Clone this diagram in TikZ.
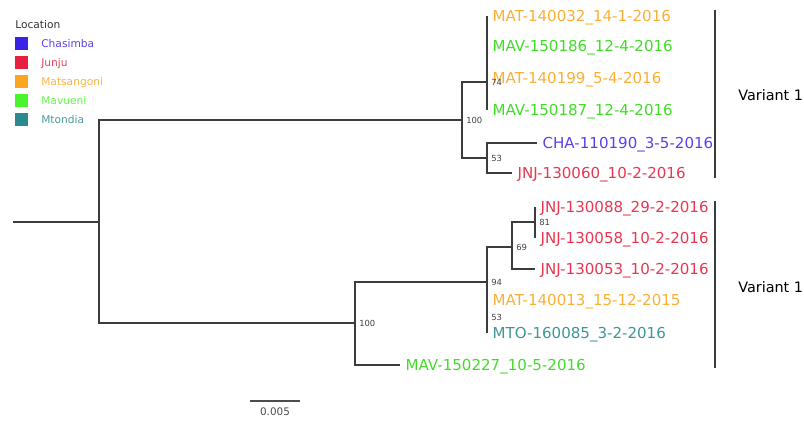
\documentclass[tikz,border=0pt]{standalone}
\usepackage{fontspec}
\setmainfont{DejaVu Sans}
\usetikzlibrary{positioning}

% location colours
\definecolor{chacol}{HTML}{3A22E6}
\definecolor{jnjcol}{HTML}{E8203F}
\definecolor{matcol}{HTML}{FBA61E}
\definecolor{mavcol}{HTML}{48F52A}
\definecolor{mtocol}{HTML}{2A8A8C}
\definecolor{treegray}{HTML}{3C3C3C}

\begin{document}
\begin{tikzpicture}[
  x=0.75pt, y=-0.75pt,
  branch/.style={draw=treegray, line width=1pt},
  tip/.style={anchor=west, inner xsep=4pt, inner ysep=0pt, text height=8.1pt, text depth=0pt,
    font=\fontsize{11.3}{13}\selectfont},
  boot/.style={anchor=west, inner xsep=3pt, inner ysep=0pt, text height=4.6pt, text depth=0pt,
    text=black!75, font=\fontsize{6.3}{7}\selectfont},
  swatch/.style={minimum size=9.75pt, inner sep=0pt},
  key/.style={anchor=west, inner sep=0pt, text height=6pt, text depth=0pt, font=\fontsize{8}{9}\selectfont},
  clade/.style={draw=treegray, line width=1.5pt}
]
\useasboundingbox (0,0) rectangle (804,421);

% legend
\node[key, text=black!80] (loc) at (15,24) {Location};
\foreach \name/\col [count=\i] in {Chasimba/chacol, Junju/jnjcol, Matsangoni/matcol, Mavueni/mavcol, Mtondia/mtocol}{
  \node[swatch, fill=\col] (sw\i) at (21.5,24+19*\i) {};
  \node[key, text=\col!85!white] (key\i) at (41,24+19*\i) {\name};
}

% internal nodes
\coordinate (root) at (13,222);
\coordinate (n0) at (99,222);
\coordinate (nA) at (462,120);
\coordinate (nA1) at (487,82);
\coordinate (nA2) at (487,158);
\coordinate (nB) at (355,323);
\coordinate (nB1) at (487,282);
\coordinate (nB2) at (512,247);
\coordinate (nB3) at (535,222);
\coordinate (nB4) at (487,317);

% tips
\node[tip, text=matcol!90!white] (t1) at (487,16) {MAT-140032\_14-1-2016};
\node[tip, text=mavcol!90!black] (t2) at (487,46) {MAV-150186\_12-4-2016};
\node[tip, text=matcol!90!white] (t3) at (487,78) {MAT-140199\_5-4-2016};
\node[tip, text=mavcol!90!black] (t4) at (487,110) {MAV-150187\_12-4-2016};
\node[tip, text=chacol!85!white] (t5) at (537,143) {CHA-110190\_3-5-2016};
\node[tip, text=jnjcol!90!white] (t6) at (512,173) {JNJ-130060\_10-2-2016};
\node[tip, text=jnjcol!90!white] (t7) at (535,207) {JNJ-130088\_29-2-2016};
\node[tip, text=jnjcol!90!white] (t8) at (535,238) {JNJ-130058\_10-2-2016};
\node[tip, text=jnjcol!90!white] (t9) at (535,269) {JNJ-130053\_10-2-2016};
\node[tip, text=matcol!90!white] (t10) at (487,300) {MAT-140013\_15-12-2015};
\node[tip, text=mtocol!90!white] (t11) at (487,333) {MTO-160085\_3-2-2016};
\node[tip, text=mavcol!90!black] (t12) at (400,365) {MAV-150227\_10-5-2016};

% branches
\draw[branch] (root) -- (n0);
\foreach \p/\c in {n0/nA, n0/nB, nA/nA1, nA/nA2, nB/nB1, nB1/nB2, nB1/nB4, nB2/nB3}
  \draw[branch] (\p) |- (\c);
\foreach \p/\c in {nA1/t1, nA1/t2, nA1/t3, nA1/t4, nA2/t5, nA2/t6, nB3/t7, nB3/t8, nB2/t9, nB4/t10, nB4/t11, nB/t12}
  \draw[branch] (\p) |- (\c.west);

% bootstrap values
\node[boot] (bA) at (nA) {100};
\node[boot] (bA1) at (nA1) {74};
\node[boot] (bA2) at (nA2) {53};
\node[boot] (bB) at (nB) {100};
\node[boot] (bB1) at (nB1) {94};
\node[boot] (bB2) at (nB2) {69};
\node[boot] (bB3) at (nB3) {81};
\node[boot] (bB4) at (nB4) {53};

% clade bars
\coordinate (v1a) at (715,10);
\coordinate (v1b) at (715,178);
\coordinate (v2a) at (715,201);
\coordinate (v2b) at (715,368);
\draw[clade] (v1a) -- (v1b);
\draw[clade] (v2a) -- (v2b);
\node[anchor=west, inner sep=0pt, font=\fontsize{10.8}{12}\selectfont] (var1) at (738,95) {Variant 1};
\node[anchor=west, inner sep=0pt, font=\fontsize{10.8}{12}\selectfont] (var2) at (738,287) {Variant 1};

% scale bar
\coordinate (s1) at (250,401);
\coordinate (s2) at (300,401);
\draw[branch, draw=black!70] (s1) -- (s2);
\node[inner sep=0pt, text=black!70, font=\fontsize{7.8}{9}\selectfont] (scl) at (275,412) {0.005};
\end{tikzpicture}
\end{document}
